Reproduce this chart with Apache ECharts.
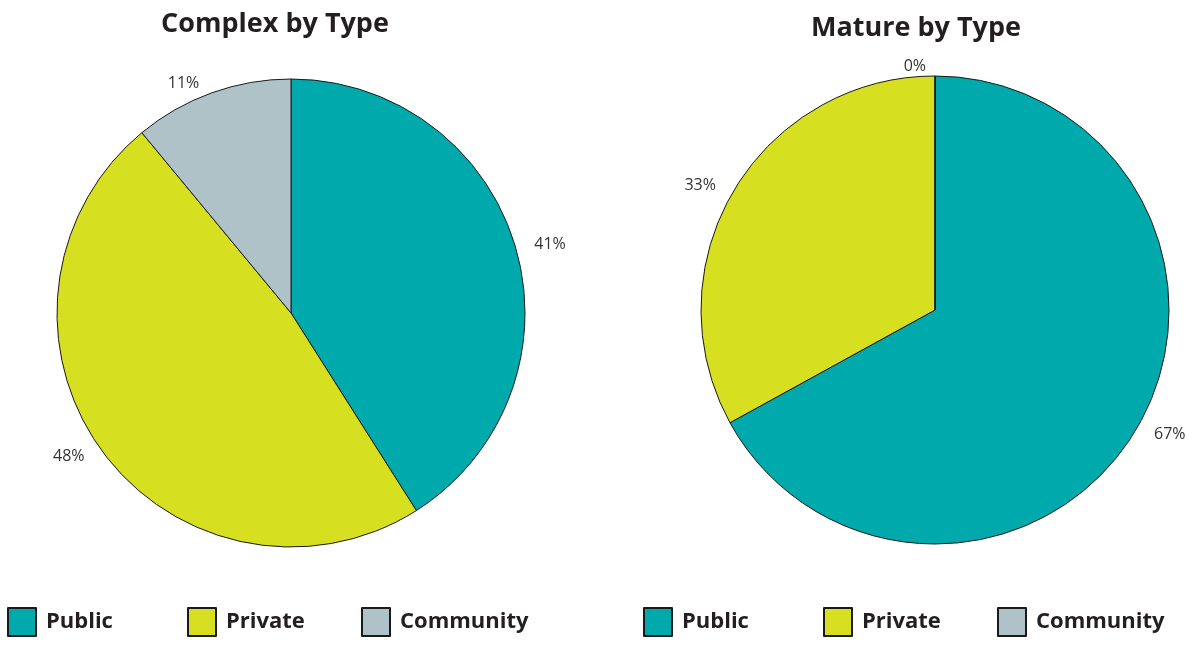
<!DOCTYPE html>
<html>
<head>
<meta charset="utf-8">
<script src="https://cdn.jsdelivr.net/npm/echarts@6/dist/echarts.min.js"></script>
<style>
  html, body { margin: 0; padding: 0; background: #ffffff; }
  #chart { width: 1191px; height: 645px; }
</style>
</head>
<body>
<div id="chart"></div>
<script>
// Share of projects by ownership type
const categories = ['Public', 'Private', 'Community'];
const complexShares = [41, 48, 11];
const matureShares = [67, 33, 0];
const chartTitles = ['Complex by Type', 'Mature by Type'];

const palette = {
  Public: '#00A9AC',
  Private: '#D7DF21',
  Community: '#AEC2C8'
};

const FONT = '"Open Sans", "Noto Sans", sans-serif';

function pieData(values) {
  return categories.map((name, i) => ({
    name: name,
    value: values[i],
    itemStyle: { color: palette[name], borderColor: '#1a1a1a', borderWidth: 1 }
  }));
}

function pieSeries(values, center) {
  return {
    type: 'pie',
    center: center,
    radius: 234,
    startAngle: 90,
    clockwise: true,
    minAngle: 0,
    avoidLabelOverlap: false,
    stillShowZeroSum: true,
    showEmptyCircle: false,
    silent: true,
    label: {
      show: true,
      position: 'outside',
      formatter: p => p.value + '%',
      color: '#333333',
      fontFamily: FONT,
      fontSize: 16
    },
    labelLine: { show: false, length: 10, length2: 4 },
    emphasis: { disabled: true },
    data: pieData(values)
  };
}

// One legend entry per placement so spacing follows each label's width
const legendLefts = [[7, 187, 361], [643, 823, 997]];
const legends = [];
legendLefts.forEach(row => {
  row.forEach((left, i) => {
    legends.push({
      data: [categories[i]],
      left: left,
      top: 607,
      padding: 0,
      orient: 'horizontal',
      icon: 'rect',
      itemWidth: 28,
      itemHeight: 28,
      itemGap: 10,
      selectedMode: false,
      textStyle: {
        fontFamily: FONT,
        fontWeight: 'bold',
        fontSize: 22,
        color: '#231F20',
        padding: [0, 0, 0, 5]
      }
    });
  });
});

const titleStyle = { fontFamily: FONT, fontWeight: 'bold', fontSize: 27, color: '#231F20' };

const chart = echarts.init(document.getElementById('chart'), null, { renderer: 'canvas' });

chart.setOption({
  animation: false,
  backgroundColor: '#ffffff',
  title: [
    { text: chartTitles[0], left: 275, top: 11, padding: 0, textAlign: 'center', textStyle: titleStyle },
    { text: chartTitles[1], left: 916, top: 15, padding: 0, textAlign: 'center', textStyle: titleStyle }
  ],
  legend: legends,
  series: [
    pieSeries(complexShares, [291, 313]),
    pieSeries(matureShares, [935, 310])
  ]
});
</script>
</body>
</html>
